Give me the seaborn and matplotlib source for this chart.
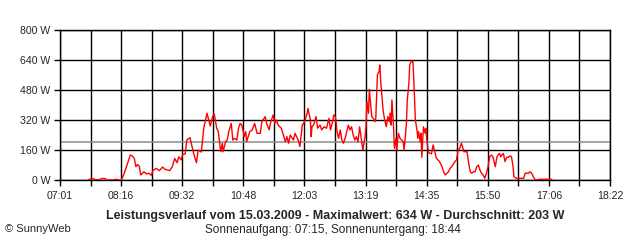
import matplotlib
matplotlib.use("Agg")
import matplotlib.pyplot as plt
import seaborn as sns
import pandas as pd
from matplotlib.ticker import FixedLocator

# ---- data ----
times = [
    "07:36", "07:38", "07:41", "07:44", "07:48", "07:53", "07:57", "07:59", "08:07", "08:10",
    "08:14", "08:17", "08:20", "08:24", "08:28", "08:30", "08:33", "08:35", "08:37", "08:39",
    "08:41", "08:45", "08:48", "08:51", "08:54", "08:56", "09:00", "09:04", "09:08", "09:11",
    "09:17", "09:20", "09:23", "09:26", "09:28", "09:31", "09:33", "09:36", "09:38", "09:42",
    "09:44", "09:47", "09:50", "09:52", "09:56", "09:59", "10:03", "10:07", "10:10", "10:12",
    "10:15", "10:17", "10:20", "10:22", "10:23", "10:26", "10:28", "10:30", "10:33", "10:35",
    "10:37", "10:40", "10:42", "10:44", "10:46", "10:48", "10:49", "10:51", "10:52", "10:56",
    "10:59", "11:02", "11:05", "11:09", "11:11", "11:15", "11:17", "11:20", "11:22", "11:25",
    "11:27", "11:29", "11:31", "11:35", "11:37", "11:40", "11:42", "11:44", "11:46", "11:50",
    "11:52", "11:56", "11:58", "12:01", "12:04", "12:07", "12:08", "12:11", "12:12", "12:13",
    "12:15", "12:18", "12:20", "12:23", "12:25", "12:28", "12:31", "12:34", "12:36", "12:39",
    "12:40", "12:42", "12:43", "12:44", "12:46", "12:48", "12:50", "12:52", "12:54", "12:56",
    "12:58", "13:00", "13:02", "13:04", "13:06", "13:08", "13:10", "13:12", "13:14", "13:16",
    "13:19", "13:20", "13:21", "13:23", "13:24", "13:26", "13:27", "13:29", "13:31", "13:32",
    "13:34", "13:36", "13:37", "13:38", "13:40", "13:41", "13:43", "13:45", "13:47", "13:49",
    "13:50", "13:51", "13:52", "13:54", "13:55", "13:57", "13:58", "14:00", "14:02", "14:04",
    "14:06", "14:07", "14:09", "14:10", "14:11", "14:13", "14:14", "14:16", "14:18", "14:19",
    "14:20", "14:21", "14:23", "14:24", "14:25", "14:27", "14:28", "14:29", "14:31", "14:33",
    "14:34", "14:35", "14:37", "14:39", "14:41", "14:43", "14:45", "14:47", "14:49", "14:51",
    "14:54", "14:56", "14:58", "15:00", "15:02", "15:04", "15:06", "15:08", "15:10", "15:12",
    "15:14", "15:16", "15:18", "15:20", "15:21", "15:25", "15:27", "15:29", "15:31", "15:33",
    "15:35", "15:37", "15:39", "15:41", "15:43", "15:45", "15:47", "15:49", "15:51", "15:53",
    "15:55", "15:57", "16:00", "16:01", "16:02", "16:05", "16:07", "16:08", "16:10", "16:12",
    "16:14", "16:16", "16:18", "16:20", "16:22", "16:23", "16:26", "16:35", "16:37", "16:41",
    "16:43", "16:45", "16:47", "16:49", "16:51", "16:55", "17:10",
]
watts = [
    0, 5, 8, 3, 0, 8, 8, 0, 0, 4,
    0, 0, 30, 80, 133, 130, 115, 71, 82, 75,
    27, 44, 32, 36, 25, 50, 62, 50, 69, 57,
    50, 71, 115, 92, 124, 107, 137, 139, 213, 226,
    187, 133, 92, 160, 149, 276, 356, 288, 338, 352,
    276, 258, 151, 196, 151, 204, 213, 258, 302, 213,
    222, 213, 276, 302, 293, 258, 231, 258, 204, 258,
    267, 302, 249, 249, 311, 338, 300, 267, 311, 347,
    302, 320, 293, 276, 249, 204, 231, 196, 240, 213,
    249, 213, 178, 293, 311, 356, 382, 320, 231, 284,
    293, 338, 276, 293, 267, 284, 276, 329, 267, 320,
    347, 338, 302, 258, 222, 267, 213, 196, 222, 258,
    293, 267, 284, 240, 213, 231, 204, 284, 222, 160,
    240, 293, 418, 356, 484, 382, 338, 329, 311, 329,
    560, 578, 613, 533, 427, 373, 320, 284, 338, 311,
    356, 293, 427, 284, 169, 222, 160, 249, 222, 213,
    204, 160, 249, 311, 427, 516, 613, 634, 631, 542,
    427, 320, 267, 222, 258, 204, 249, 121, 284, 250,
    276, 222, 151, 142, 140, 187, 151, 116, 107, 98,
    71, 44, 27, 36, 44, 62, 71, 85, 98, 107,
    160, 169, 196, 169, 151, 151, 89, 44, 36, 44,
    44, 71, 80, 53, 36, 27, 9, 36, 71, 124,
    133, 124, 71, 98, 124, 142, 124, 133, 142, 98,
    121, 121, 128, 124, 71, 18, 9, 9, 36, 36,
    44, 36, 18, 4, 0, 4, 4,
]
average_w = 203
y_ticks = [0, 160, 320, 480, 640, 800]
y_labels = ["0 W", "160 W", "320 W", "480 W", "640 W", "800 W"]
x_labels = ["07:01", "08:16", "09:32", "10:48", "12:03", "13:19", "14:35", "15:50", "17:06", "18:22"]
title = "Leistungsverlauf vom 15.03.2009 - Maximalwert: 634 W - Durchschnitt: 203 W"
subtitle = "Sonnenaufgang: 07:15, Sonnenuntergang: 18:44"
credit = "© SunnyWeb"

# ---- plotting ----
sns.set_style("white")
plt.rcParams["font.family"] = ["Liberation Sans", "DejaVu Sans"]


def to_min(s):
    h, m = s.split(":")
    return int(h) * 60 + int(m)


df = pd.DataFrame({"t": [to_min(t) for t in times], "w": watts})
t0, t1 = to_min(x_labels[0]), to_min(x_labels[-1])

fig = plt.figure(figsize=(6.4, 2.4), dpi=100)
ax = fig.add_axes([60 / 640, 60 / 240, 550 / 640, 150 / 240])

ax.axhline(average_w, color="#8c8c8c", lw=1.1, zorder=1)
sns.lineplot(data=df, x="t", y="w", estimator=None, sort=False, color="red",
             lw=1.0, ax=ax, zorder=3)

ax.set_xlim(t0, t1)
ax.set_ylim(0, 800)
major = [t0 + i * (t1 - t0) / 9 for i in range(10)]
minor = [t0 + i * (t1 - t0) / 18 for i in range(1, 18, 2)]
ax.xaxis.set_major_locator(FixedLocator(major))
ax.xaxis.set_minor_locator(FixedLocator(minor))
ax.set_xticklabels(x_labels)
ax.set_yticks(y_ticks)
ax.set_yticklabels(y_labels)
ax.grid(True, which="both", axis="x", color="black", lw=1.0, zorder=0)
ax.grid(True, which="major", axis="y", color="black", lw=1.0, zorder=0)
ax.set_axisbelow(True)
ax.tick_params(axis="both", which="both", direction="out", length=4, width=1,
               color="black", labelsize=7.6, bottom=True, left=True)
ax.tick_params(axis="x", pad=4)
ax.tick_params(axis="y", pad=3)
for sp in ax.spines.values():
    sp.set_color("black")
    sp.set_linewidth(1.0)
ax.set_xlabel("")
ax.set_ylabel("")

fig.text(335 / 640, 1 - 216 / 240, title, ha="center", va="center",
         fontsize=9, fontweight="bold")
fig.text(333 / 640, 1 - 230 / 240, subtitle, ha="center", va="center", fontsize=8.5)
fig.text(5 / 640, 1 - 229.5 / 240, credit, ha="left", va="center", fontsize=8)

fig.savefig("out.png", dpi=100)
